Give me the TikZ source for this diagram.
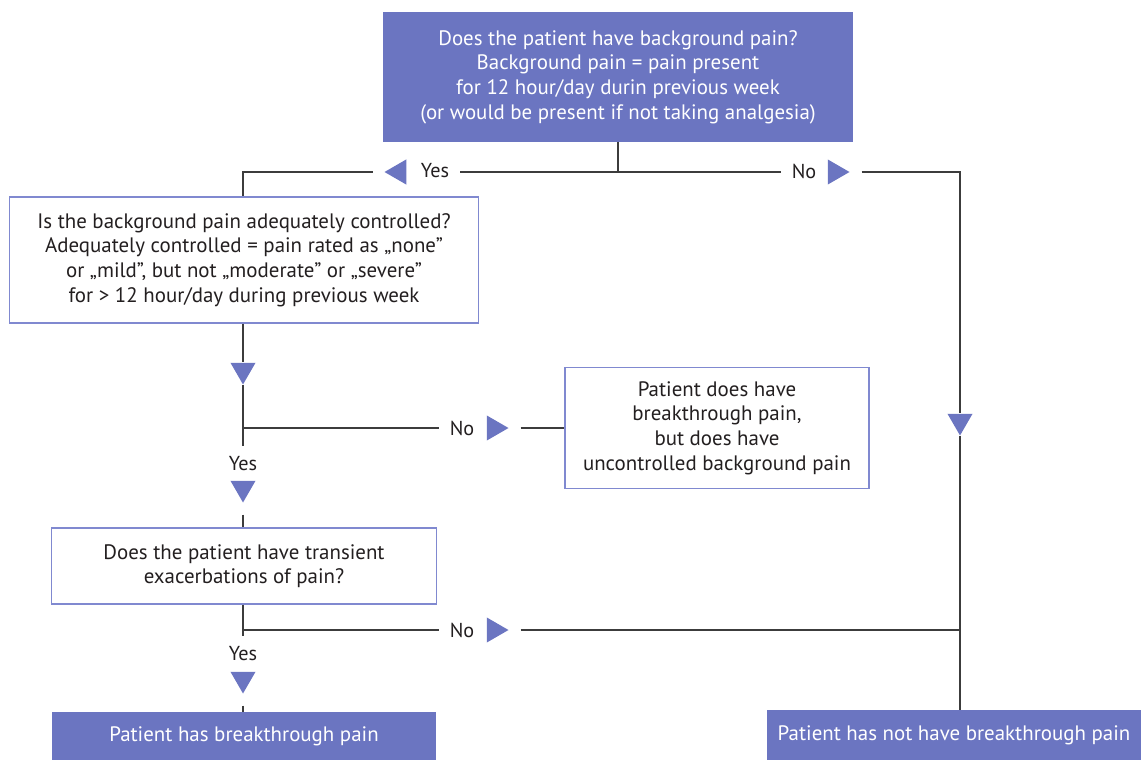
\documentclass[tikz,border=0pt]{standalone}
\usepackage{fontspec}
\setmainfont{PT Sans}
\usetikzlibrary{shapes.geometric,positioning}
\definecolor{hdr}{HTML}{6B75C1}
\definecolor{boxln}{HTML}{8089D0}
\definecolor{txt}{HTML}{231F20}
\definecolor{ln}{HTML}{3C3C3C}
\tikzset{
  qbox/.style={draw=boxln, line width=0.8pt, fill=white, text=txt, align=center, inner sep=0pt,
    font=\fontsize{11.9}{14}\selectfont},
  hbox/.style={fill=hdr, text=white, align=center, inner sep=0pt,
    font=\fontsize{11.9}{14}\selectfont},
  tri/.style={regular polygon, regular polygon sides=3, fill=hdr, inner sep=0pt, minimum size=0.58cm},
  gapped/.style={outer sep=0.12cm},
  lbl/.style={text=txt, inner sep=0.2cm, font=\fontsize{11.5}{13.6}\selectfont},
  conn/.style={draw=ln, line width=0.85pt},
}

\begin{document}
\begin{tikzpicture}[x=0.02cm, y=-0.02cm]
\useasboundingbox (0,0) rectangle (1141,760);

% boxes
\node[hbox, minimum width=9.4cm, minimum height=2.6cm] (bg) at (618,77)
  {Does the patient have background pain?\\Background pain = pain present\\for 12 hour/day durin previous week\\(or would be present if not taking analgesia)};
\node[qbox, minimum width=9.38cm, minimum height=2.52cm] (ctl) at (244,260)
  {Is the background pain adequately controlled?\\Adequately controlled = pain rated as „none”\\or „mild”, but not „moderate” or „severe”\\for > 12 hour/day during previous week};
\node[qbox, minimum width=6.08cm, minimum height=2.42cm] (unc) at (717,428)
  {Patient does have\\breakthrough pain,\\but does have\\uncontrolled background pain};
\node[qbox, minimum width=7.7cm, minimum height=1.52cm] (trans) at (244,566)
  {Does the patient have transient\\exacerbations of pain?};
\node[hbox, minimum width=7.7cm, minimum height=0.96cm] (bp) at (244,736)
  {Patient has breakthrough pain};
\node[hbox, minimum width=7.48cm, minimum height=1.0cm] (nbp) at (954,735)
  {Patient has not have breakthrough pain};

% first split
\coordinate (j1) at (618,172);
\coordinate (l1) at (243,172);
\coordinate (r1) at (960,172);
\node[lbl] (yes1) at (435,171) {Yes};
\node[tri, gapped, shape border rotate=90] (tyes1) at (399,172) {};
\node[lbl] (no1) at (804,171) {No};
\node[tri, gapped, shape border rotate=-90] (tno1) at (835,172) {};
\draw[conn] (bg.south) -- (j1);
\draw[conn] (j1) -- (yes1.east |- j1);
\draw[conn] (tyes1.west) -- (l1) -- (l1 |- ctl.north);
\draw[conn] (j1) -- (no1.west |- j1);
\node[tri, shape border rotate=180] (tr) at (960,421) {};
\draw[conn] (tno1.east) -- (r1) -- (tr.north);
\draw[conn] (tr.south) -- (tr.south |- nbp.north);

% second split
\node[tri, shape border rotate=180] (t2) at (243,370) {};
\coordinate (j2) at (243,428);
\draw[conn] (ctl.south -| t2) -- (t2.north);
\draw[conn] (t2.south) -- (j2);
\node[lbl] (no2) at (462,428) {No};
\node[tri, gapped, shape border rotate=-90] (tno2) at (494,428) {};
\draw[conn] (j2) -- (no2.west |- j2);
\draw[conn] (tno2.east) -- (unc.west);
\node[lbl] (yes2) at (243,464) {Yes};
\draw[conn] (j2) -- (yes2.north);
\node[tri, gapped, shape border rotate=180] (tyes2) at (243,488) {};
\draw[conn] (tyes2.south) -- (tyes2.south |- trans.north);

% third split
\coordinate (j3) at (243,630);
\draw[conn] (trans.south -| j3) -- (j3);
\node[lbl] (no3) at (462,630) {No};
\node[tri, gapped, shape border rotate=-90] (tno3) at (494,630) {};
\draw[conn] (j3) -- (no3.west |- j3);
\draw[conn] (tno3.east) -- (r1 |- j3);
\node[lbl] (yes3) at (243,654) {Yes};
\draw[conn] (j3) -- (yes3.north);
\node[tri, gapped, shape border rotate=180] (tyes3) at (243,679) {};
\draw[conn] (tyes3.south) -- (tyes3.south |- bp.north);

\end{tikzpicture}
\end{document}
